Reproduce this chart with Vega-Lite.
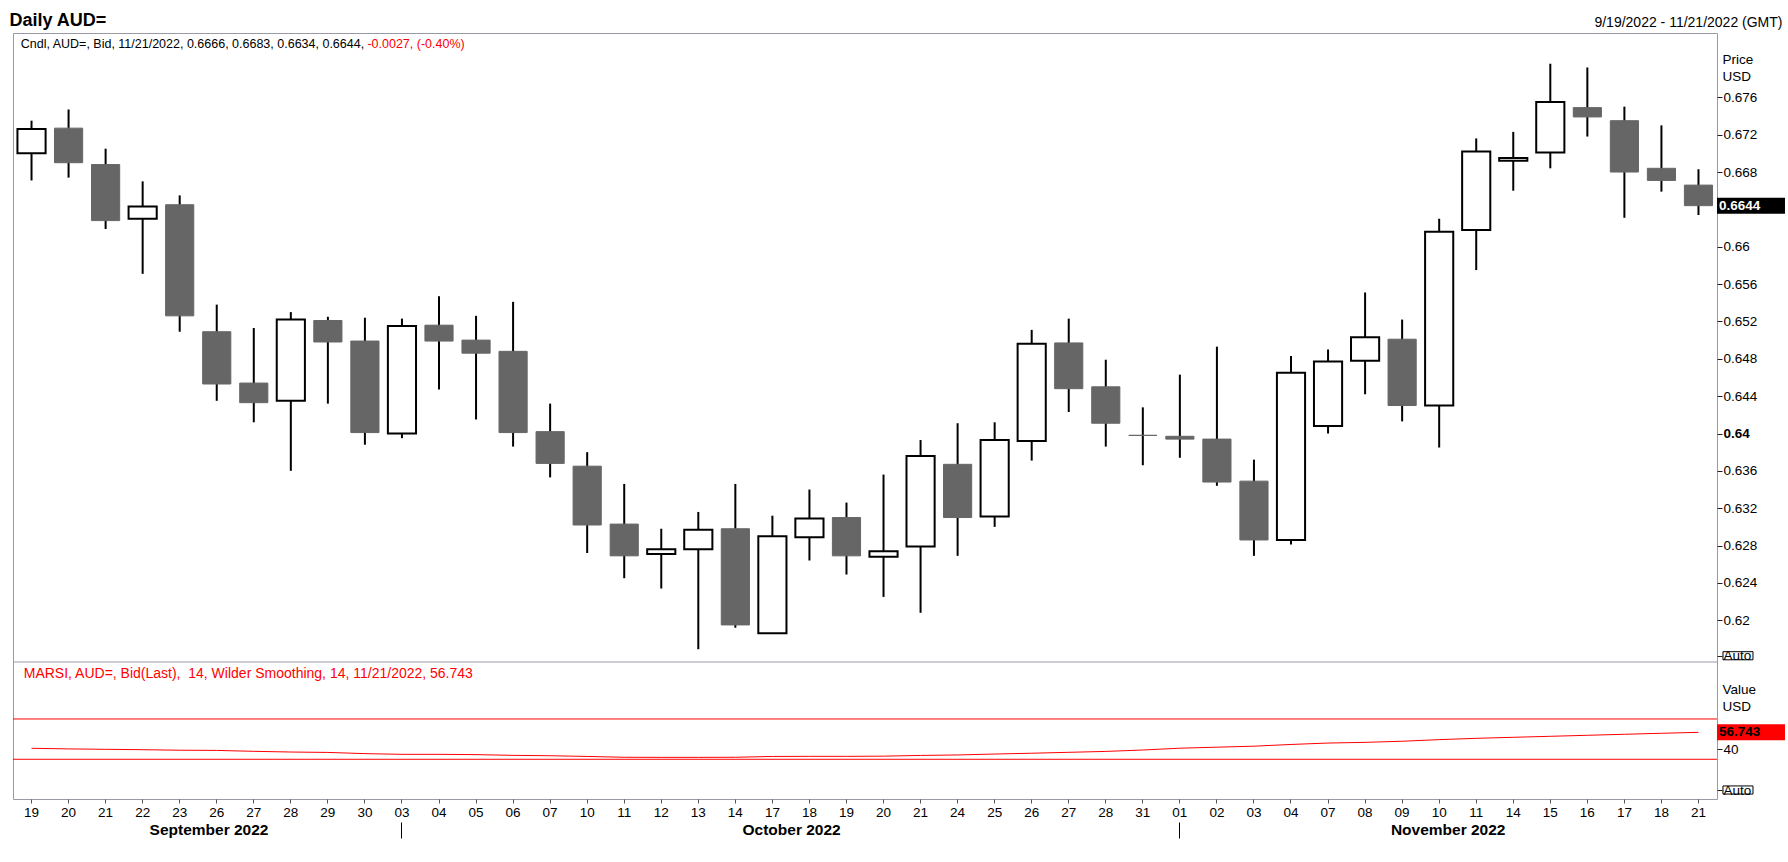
{
  "$schema": "https://vega.github.io/schema/vega-lite/v6.json",
  "width": 1704,
  "height": 766,
  "autosize": {"type": "none"},
  "padding": {"left": 13, "top": 33, "right": 71, "bottom": 63},
  "background": "white",
  "datasets": {
    "ohlc": [
      {"d": "2022-09-19", "o": 0.6700, "h": 0.6735, "l": 0.6671, "c": 0.6726},
      {"d": "2022-09-20", "o": 0.6727, "h": 0.6747, "l": 0.6674, "c": 0.6690},
      {"d": "2022-09-21", "o": 0.6688, "h": 0.6705, "l": 0.6619, "c": 0.6628},
      {"d": "2022-09-22", "o": 0.6630, "h": 0.6670, "l": 0.6571, "c": 0.6643},
      {"d": "2022-09-23", "o": 0.6645, "h": 0.6655, "l": 0.6509, "c": 0.6526},
      {"d": "2022-09-26", "o": 0.6509, "h": 0.6538, "l": 0.6435, "c": 0.6453},
      {"d": "2022-09-27", "o": 0.6454, "h": 0.6513, "l": 0.6412, "c": 0.6433},
      {"d": "2022-09-28", "o": 0.6435, "h": 0.6530, "l": 0.6360, "c": 0.6522},
      {"d": "2022-09-29", "o": 0.6521, "h": 0.6525, "l": 0.6432, "c": 0.6498},
      {"d": "2022-09-30", "o": 0.6499, "h": 0.6524, "l": 0.6388, "c": 0.6401},
      {"d": "2022-10-03", "o": 0.6400, "h": 0.6523, "l": 0.6395, "c": 0.6515},
      {"d": "2022-10-04", "o": 0.6516, "h": 0.6547, "l": 0.6447, "c": 0.6499},
      {"d": "2022-10-05", "o": 0.6500, "h": 0.6526, "l": 0.6415, "c": 0.6486},
      {"d": "2022-10-06", "o": 0.6488, "h": 0.6541, "l": 0.6386, "c": 0.6401},
      {"d": "2022-10-07", "o": 0.6402, "h": 0.6432, "l": 0.6353, "c": 0.6368},
      {"d": "2022-10-10", "o": 0.6365, "h": 0.6380, "l": 0.6272, "c": 0.6302},
      {"d": "2022-10-11", "o": 0.6303, "h": 0.6346, "l": 0.6245, "c": 0.6269},
      {"d": "2022-10-12", "o": 0.6271, "h": 0.6298, "l": 0.6234, "c": 0.6276},
      {"d": "2022-10-13", "o": 0.6276, "h": 0.6316, "l": 0.6169, "c": 0.6297},
      {"d": "2022-10-14", "o": 0.6298, "h": 0.6346, "l": 0.6192, "c": 0.6195},
      {"d": "2022-10-17", "o": 0.6186, "h": 0.6312, "l": 0.6186, "c": 0.6290},
      {"d": "2022-10-18", "o": 0.6289, "h": 0.6340, "l": 0.6264, "c": 0.6309},
      {"d": "2022-10-19", "o": 0.6310, "h": 0.6326, "l": 0.6249, "c": 0.6269},
      {"d": "2022-10-20", "o": 0.6268, "h": 0.6356, "l": 0.6225, "c": 0.6274},
      {"d": "2022-10-21", "o": 0.6279, "h": 0.6393, "l": 0.6208, "c": 0.6376},
      {"d": "2022-10-24", "o": 0.6367, "h": 0.6411, "l": 0.6269, "c": 0.6310},
      {"d": "2022-10-25", "o": 0.6311, "h": 0.6412, "l": 0.6300, "c": 0.6393},
      {"d": "2022-10-26", "o": 0.6392, "h": 0.6511, "l": 0.6371, "c": 0.6496},
      {"d": "2022-10-27", "o": 0.6497, "h": 0.6523, "l": 0.6423, "c": 0.6448},
      {"d": "2022-10-28", "o": 0.6450, "h": 0.6479, "l": 0.6386, "c": 0.6411},
      {"d": "2022-10-31", "o": 0.6398, "h": 0.6428, "l": 0.6366, "c": 0.6398},
      {"d": "2022-11-01", "o": 0.6397, "h": 0.6463, "l": 0.6374, "c": 0.6394},
      {"d": "2022-11-02", "o": 0.6394, "h": 0.6493, "l": 0.6344, "c": 0.6348},
      {"d": "2022-11-03", "o": 0.6349, "h": 0.6372, "l": 0.6269, "c": 0.6286},
      {"d": "2022-11-04", "o": 0.6286, "h": 0.6483, "l": 0.6281, "c": 0.6465},
      {"d": "2022-11-07", "o": 0.6408, "h": 0.6490, "l": 0.6400, "c": 0.6477},
      {"d": "2022-11-08", "o": 0.6478, "h": 0.6551, "l": 0.6442, "c": 0.6503},
      {"d": "2022-11-09", "o": 0.6501, "h": 0.6522, "l": 0.6413, "c": 0.6430},
      {"d": "2022-11-10", "o": 0.6430, "h": 0.6630, "l": 0.6385, "c": 0.6616},
      {"d": "2022-11-11", "o": 0.6618, "h": 0.6716, "l": 0.6575, "c": 0.6702},
      {"d": "2022-11-14", "o": 0.6692, "h": 0.6723, "l": 0.6660, "c": 0.6695},
      {"d": "2022-11-15", "o": 0.6701, "h": 0.6796, "l": 0.6684, "c": 0.6755},
      {"d": "2022-11-16", "o": 0.6749, "h": 0.6792, "l": 0.6718, "c": 0.6739},
      {"d": "2022-11-17", "o": 0.6735, "h": 0.6750, "l": 0.6631, "c": 0.6680},
      {"d": "2022-11-18", "o": 0.6684, "h": 0.6730, "l": 0.6659, "c": 0.6671},
      {"d": "2022-11-21", "o": 0.6666, "h": 0.6683, "l": 0.6634, "c": 0.6644}
    ],
    "rsi": [
      {"d": "2022-09-19", "v": 40.9}, {"d": "2022-09-20", "v": 40.3}, {"d": "2022-09-21", "v": 39.9},
      {"d": "2022-09-22", "v": 39.5}, {"d": "2022-09-23", "v": 39.0}, {"d": "2022-09-26", "v": 38.8},
      {"d": "2022-09-27", "v": 37.9}, {"d": "2022-09-28", "v": 37.2}, {"d": "2022-09-29", "v": 36.8},
      {"d": "2022-09-30", "v": 35.6}, {"d": "2022-10-03", "v": 34.9}, {"d": "2022-10-04", "v": 34.9},
      {"d": "2022-10-05", "v": 34.6}, {"d": "2022-10-06", "v": 33.9}, {"d": "2022-10-07", "v": 33.5},
      {"d": "2022-10-10", "v": 32.8}, {"d": "2022-10-11", "v": 32.0}, {"d": "2022-10-12", "v": 31.9},
      {"d": "2022-10-13", "v": 31.9}, {"d": "2022-10-14", "v": 32.0}, {"d": "2022-10-17", "v": 32.8},
      {"d": "2022-10-18", "v": 32.9}, {"d": "2022-10-19", "v": 32.9}, {"d": "2022-10-20", "v": 33.1},
      {"d": "2022-10-21", "v": 33.8}, {"d": "2022-10-24", "v": 34.3}, {"d": "2022-10-25", "v": 35.2},
      {"d": "2022-10-26", "v": 36.0}, {"d": "2022-10-27", "v": 36.9}, {"d": "2022-10-28", "v": 37.8},
      {"d": "2022-10-31", "v": 39.2}, {"d": "2022-11-01", "v": 41.0}, {"d": "2022-11-02", "v": 42.0},
      {"d": "2022-11-03", "v": 43.0}, {"d": "2022-11-04", "v": 44.7}, {"d": "2022-11-07", "v": 46.1},
      {"d": "2022-11-08", "v": 46.8}, {"d": "2022-11-09", "v": 47.9}, {"d": "2022-11-10", "v": 49.5},
      {"d": "2022-11-11", "v": 50.8}, {"d": "2022-11-14", "v": 51.8}, {"d": "2022-11-15", "v": 52.8},
      {"d": "2022-11-16", "v": 53.8}, {"d": "2022-11-17", "v": 54.8}, {"d": "2022-11-18", "v": 55.8},
      {"d": "2022-11-21", "v": 56.743}
    ]
  },
  "resolve": {
    "scale": {"y": "independent"},
    "axis": {"x": "independent", "y": "independent"}
  },
  "layer": [
    {
      "data": {"name": "ohlc"},
      "layer": [
        {
          "mark": {"type": "rule", "color": "black", "strokeWidth": 2},
          "encoding": {
            "x": {
              "field": "d", "type": "ordinal",
              "scale": {"type": "band", "paddingInner": 0, "paddingOuter": 0},
              "axis": {
                "orient": "top", "labels": false, "ticks": false, "domain": false, "grid": false,
                "title": "Daily AUD=", "titleX": -4, "titleY": -8, "titleAlign": "left",
                "titleBaseline": "alphabetic", "titleAngle": 0, "titleFontSize": 18,
                "titleFontWeight": "bold", "titleColor": "black"
              }
            },
            "y": {
              "field": "l", "type": "quantitative",
              "scale": {"domain": [0.61553, 0.68289], "range": [629, 0], "nice": false, "zero": false},
              "axis": {
                "orient": "right", "grid": false, "domain": false,
                "values": [0.6162, 0.62, 0.624, 0.628, 0.632, 0.636, 0.64, 0.644, 0.648, 0.652, 0.656, 0.66, 0.668, 0.672, 0.676],
                "labelExpr": "datum.value < 0.618 ? 'Auto' : format(datum.value, '.3~f')",
                "labelFontWeight": {"condition": {"test": "datum.value == 0.64", "value": "bold"}, "value": "normal"},
                "labelFontSize": 13.5, "labelPadding": 1, "labelColor": "black", "labelOverlap": false,
                "tickSize": 5, "tickColor": "#222222",
                "title": ["Price", "USD"], "titleAngle": 0, "titleAlign": "left", "titleBaseline": "top",
                "titleX": 5, "titleY": 19, "titleFontSize": 13.5, "titleFontWeight": "normal",
                "titleLineHeight": 17.5, "titleColor": "black"
              }
            },
            "y2": {"field": "h"}
          }
        },
        {
          "mark": {"type": "bar", "width": {"band": 0.76}},
          "encoding": {
            "x": {"field": "d", "type": "ordinal", "scale": {"type": "band", "paddingInner": 0, "paddingOuter": 0}},
            "y": {"field": "o", "type": "quantitative"},
            "y2": {"field": "c"},
            "color": {"condition": {"test": "datum.c > datum.o", "value": "white"}, "value": "#666666"},
            "stroke": {"condition": {"test": "datum.c > datum.o", "value": "black"}, "value": "#666666"},
            "strokeWidth": {"condition": {"test": "datum.c > datum.o", "value": 2}, "value": 1}
          }
        },
        {
          "data": {"values": [{"k": 0.61553}]},
          "mark": {"type": "rule", "color": "#9a9aa6", "strokeWidth": 1},
          "encoding": {"y": {"field": "k", "type": "quantitative"}}
        },
        {
          "data": {"values": [{"d": "2022-09-19", "v": 0.68131, "t": "Cndl, AUD=, Bid, 11/21/2022, 0.6666, 0.6683, 0.6634, 0.6644,"}]},
          "mark": {"type": "text", "align": "left", "baseline": "alphabetic", "dx": -10.8, "fontSize": 12.5, "color": "black"},
          "encoding": {
            "x": {"field": "d", "type": "ordinal", "scale": {"type": "band", "paddingInner": 0, "paddingOuter": 0}},
            "y": {"field": "v", "type": "quantitative"},
            "text": {"field": "t"}
          }
        },
        {
          "data": {"values": [{"d": "2022-09-30", "v": 0.68131, "t": "-0.0027, (-0.40%)"}]},
          "mark": {"type": "text", "align": "left", "baseline": "alphabetic", "dx": 2.5, "fontSize": 12.5, "color": "#ff0000"},
          "encoding": {
            "x": {"field": "d", "type": "ordinal", "scale": {"type": "band", "paddingInner": 0, "paddingOuter": 0}},
            "y": {"field": "v", "type": "quantitative"},
            "text": {"field": "t"}
          }
        },
        {
          "data": {"values": [{"d": "2022-11-21", "v": 0.6644}]},
          "mark": {"type": "point", "shape": "M-1,-0.235L1,-0.235L1,0.235L-1,0.235Z", "size": 4624, "filled": true, "color": "black", "opacity": 1, "strokeWidth": 0, "xOffset": 52.5},
          "encoding": {
            "x": {"field": "d", "type": "ordinal", "scale": {"type": "band", "paddingInner": 0, "paddingOuter": 0}},
            "y": {"field": "v", "type": "quantitative"}
          }
        },
        {
          "data": {"values": [{"d": "2022-11-21", "v": 0.6644, "t": "0.6644"}]},
          "mark": {"type": "text", "align": "left", "baseline": "middle", "dx": 20.5, "fontSize": 13.5, "fontWeight": "bold", "color": "white"},
          "encoding": {
            "x": {"field": "d", "type": "ordinal", "scale": {"type": "band", "paddingInner": 0, "paddingOuter": 0}},
            "y": {"field": "v", "type": "quantitative"},
            "text": {"field": "t"}
          }
        },
        {
          "data": {"values": [{"d": "2022-11-21", "v": 0.6162}]},
          "mark": {"type": "point", "shape": "M-1,-0.27L1,-0.27L1,0.27L-1,0.27Z", "size": 900, "filled": false, "color": "black", "opacity": 1, "strokeWidth": 1, "xOffset": 39.5},
          "encoding": {
            "x": {"field": "d", "type": "ordinal", "scale": {"type": "band", "paddingInner": 0, "paddingOuter": 0}},
            "y": {"field": "v", "type": "quantitative"}
          }
        }
      ]
    },
    {
      "data": {"name": "rsi"},
      "layer": [
        {
          "data": {"values": [{"k": 70}, {"k": 30}]},
          "mark": {"type": "rule", "color": "#ff0000", "strokeWidth": 1},
          "encoding": {
            "y": {
              "field": "k", "type": "quantitative",
              "scale": {"domain": [-9.43, 126.55], "range": [766, 629], "nice": false, "zero": false},
              "axis": {
                "orient": "right", "grid": false, "domain": false,
                "values": [-0.5, 40],
                "labelExpr": "datum.value < 10 ? 'Auto' : '40'",
                "labelFontSize": 13.5, "labelPadding": 1, "labelColor": "black", "labelOverlap": false,
                "tickSize": 5, "tickColor": "#222222",
                "title": ["Value", "USD"], "titleAngle": 0, "titleAlign": "left", "titleBaseline": "top",
                "titleX": 5, "titleY": 649, "titleFontSize": 13.5, "titleFontWeight": "normal",
                "titleLineHeight": 17.5, "titleColor": "black"
              }
            }
          }
        },
        {
          "mark": {"type": "line", "color": "#ff0000", "strokeWidth": 1},
          "encoding": {
            "x": {
              "field": "d", "type": "ordinal",
              "scale": {"type": "band", "paddingInner": 0, "paddingOuter": 0},
              "axis": {
                "orient": "bottom", "title": null, "grid": false, "domain": false,
                "labelExpr": "slice(datum.value, 8)", "labelAngle": 0, "labelFontSize": 13.5,
                "labelPadding": 2, "labelColor": "black", "labelOverlap": false,
                "tickSize": 4, "tickColor": "#555555"
              }
            },
            "y": {"field": "v", "type": "quantitative"}
          }
        },
        {
          "data": {"values": [{"d": "2022-09-19", "v": 111.0, "t": "MARSI, AUD=, Bid(Last),\u00a0 14, Wilder Smoothing, 14, 11/21/2022, 56.743"}]},
          "mark": {"type": "text", "align": "left", "baseline": "alphabetic", "dx": -7.8, "fontSize": 14, "color": "#ff0000"},
          "encoding": {
            "x": {"field": "d", "type": "ordinal", "scale": {"type": "band", "paddingInner": 0, "paddingOuter": 0}},
            "y": {"field": "v", "type": "quantitative"},
            "text": {"field": "t"}
          }
        },
        {
          "data": {"values": [{"d": "2022-11-21", "v": 56.743}]},
          "mark": {"type": "point", "shape": "M-1,-0.235L1,-0.235L1,0.235L-1,0.235Z", "size": 4624, "filled": true, "color": "#ff0000", "opacity": 1, "strokeWidth": 0, "xOffset": 52.5},
          "encoding": {
            "x": {"field": "d", "type": "ordinal", "scale": {"type": "band", "paddingInner": 0, "paddingOuter": 0}},
            "y": {"field": "v", "type": "quantitative"}
          }
        },
        {
          "data": {"values": [{"d": "2022-11-21", "v": 56.743, "t": "56.743"}]},
          "mark": {"type": "text", "align": "left", "baseline": "middle", "dx": 20.5, "fontSize": 13.5, "fontWeight": "bold", "color": "black"},
          "encoding": {
            "x": {"field": "d", "type": "ordinal", "scale": {"type": "band", "paddingInner": 0, "paddingOuter": 0}},
            "y": {"field": "v", "type": "quantitative"},
            "text": {"field": "t"}
          }
        },
        {
          "data": {"values": [{"d": "2022-11-21", "v": -0.5}]},
          "mark": {"type": "point", "shape": "M-1,-0.27L1,-0.27L1,0.27L-1,0.27Z", "size": 900, "filled": false, "color": "black", "opacity": 1, "strokeWidth": 1, "xOffset": 39.5},
          "encoding": {
            "x": {"field": "d", "type": "ordinal", "scale": {"type": "band", "paddingInner": 0, "paddingOuter": 0}},
            "y": {"field": "v", "type": "quantitative"}
          }
        }
      ]
    },
    {
      "data": {"values": [{"d": "2022-09-26"}, {"d": "2022-10-17"}, {"d": "2022-11-10"}]},
      "mark": {"type": "rule", "opacity": 0},
      "encoding": {
        "x": {
          "field": "d", "type": "ordinal",
          "scale": {"type": "band", "paddingInner": 0, "paddingOuter": 0},
          "axis": {
            "orient": "bottom", "title": null, "grid": false, "domain": false, "ticks": false, "tickSize": 0,
            "values": ["2022-09-26", "2022-10-17", "2022-11-10"],
            "labelExpr": "datum.value == '2022-09-26' ? 'September 2022' : datum.value == '2022-10-17' ? 'October 2022' : 'November 2022'",
            "labelOffset": {"condition": [{"test": "datum.value == '2022-09-26'", "value": -7.7}, {"test": "datum.value == '2022-10-17'", "value": 19.2}], "value": 9},
            "labelAngle": 0, "labelPadding": 23, "labelFontSize": 15.5, "labelFontWeight": "bold",
            "labelColor": "black", "labelOverlap": false
          }
        }
      }
    },
    {
      "data": {"values": [{"d": "2022-10-03"}, {"d": "2022-11-01"}]},
      "mark": {"type": "rule", "opacity": 0},
      "encoding": {
        "x": {
          "field": "d", "type": "ordinal",
          "scale": {"type": "band", "paddingInner": 0, "paddingOuter": 0},
          "axis": {
            "orient": "bottom", "title": null, "grid": false, "domain": false, "labels": false,
            "values": ["2022-10-03", "2022-11-01"],
            "offset": 23, "tickSize": 16, "tickWidth": 1, "tickColor": "black"
          }
        }
      }
    },
    {
      "data": {"values": [{"d": "2022-09-19"}]},
      "mark": {"type": "rule", "opacity": 0},
      "encoding": {
        "x": {
          "field": "d", "type": "ordinal",
          "scale": {"type": "band", "paddingInner": 0, "paddingOuter": 0},
          "axis": {
            "orient": "top", "labels": false, "ticks": false, "domain": false, "grid": false,
            "title": "9/19/2022 - 11/21/2022 (GMT)", "titleX": 1769, "titleY": -7, "titleAlign": "right",
            "titleBaseline": "alphabetic", "titleAngle": 0, "titleFontSize": 14,
            "titleFontWeight": "normal", "titleColor": "black"
          }
        }
      }
    }
  ],
  "config": {
    "font": "Liberation Sans",
    "view": {"stroke": "#9a9aa6", "strokeWidth": 1},
    "axis": {"labelFont": "Liberation Sans", "titleFont": "Liberation Sans"},
    "text": {"font": "Liberation Sans"}
  }
}
